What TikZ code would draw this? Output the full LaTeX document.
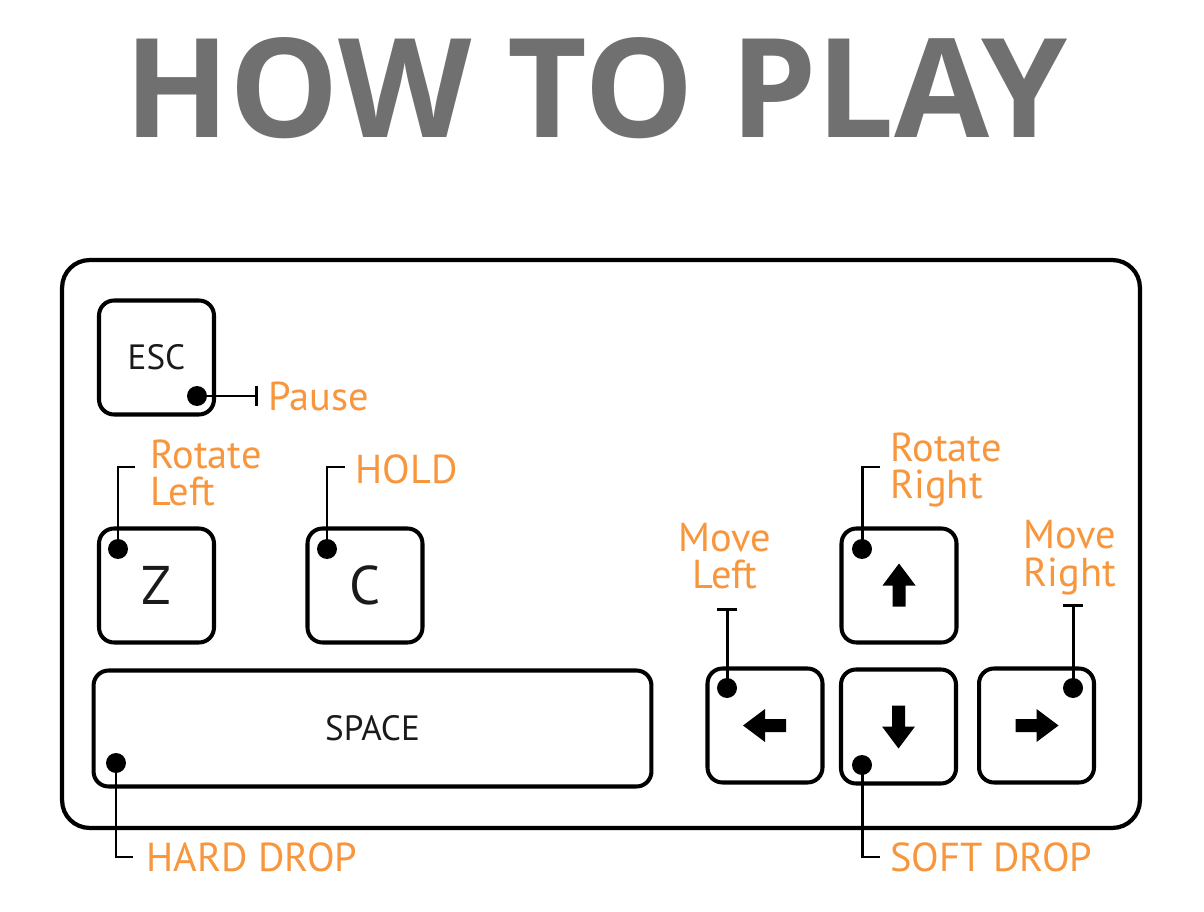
\documentclass[tikz,border=0pt]{standalone}
\usepackage{fontspec}
\setmainfont{PT Sans}
\newfontfamily\titlefont{Open Sans}
\usetikzlibrary{arrows.meta, positioning}
\definecolor{labelorange}{HTML}{F7963C}
\definecolor{titlegray}{HTML}{707070}
\definecolor{keyink}{HTML}{1A1A1A}

\begin{document}
\begin{tikzpicture}[x=0.02cm, y=-0.02cm,
        board/.style={draw=black, line width=2.4pt, rounded corners=0.55cm, minimum width=21.56cm, minimum height=11.36cm},
        keybox/.style={draw=black, line width=2.3pt, rounded corners=0.3cm, minimum width=2.3cm, minimum height=2.28cm, font=\fontsize{20}{20}\selectfont, text=keyink},
        bigkey/.style={keybox, font=\fontsize{31}{31}\selectfont},
        keydot/.style={circle, fill=black, inner sep=0pt, minimum size=0.4cm},
        lead/.style={line width=1.7pt, draw=black},
        tee/.style={lead, -{Bar[width=0.4cm]}},
        ctrl/.style={text=labelorange, font=\fontsize{23}{21.5}\selectfont, inner sep=0pt},
        keyarrow/.pic={\fill (-21,-6.5) -- (0,-6.5) -- (0,-16.5) -- (22,0) -- (0,16.5) -- (0,6.5) -- (-21,6.5) -- cycle;}
    ]
        \useasboundingbox (0,0) rectangle (1204,912);
        % Title
        \node[font=\titlefont\bfseries\fontsize{78.5}{78.5}\selectfont, text=titlegray] (title) at (596,88) {HOW TO PLAY};
        % Keyboard
        \node[board] (board) at (601,544) {};
        \node[keybox] (esc) at (156.5,357.5) {ESC};
        \node[bigkey] (zkey) at (156.5,585.5) {Z};
        \node[bigkey] (ckey) at (365,585.5) {C};
        \node[keybox, minimum width=11.16cm, minimum height=2.32cm] (space) at (372.5,728.5) {SPACE};
        \node[keybox] (leftkey) at (765,725.5) {};
        \node[keybox] (upkey) at (899,585.5) {};
        \node[keybox] (downkey) at (898.5,726.5) {};
        \node[keybox] (rightkey) at (1036.5,725.5) {};
        \pic[rotate=180] at (leftkey) {keyarrow};
        \pic[rotate=90] at (upkey) {keyarrow};
        \pic[rotate=-90] at (downkey) {keyarrow};
        \pic at (rightkey) {keyarrow};
        % Dots
        \node[keydot] (escdot) at (197,396) {};
        \node[keydot] (zdot) at (118,549) {};
        \node[keydot] (cdot) at (327,549) {};
        \node[keydot] (spacedot) at (116,763) {};
        \node[keydot] (leftdot) at (727,688) {};
        \node[keydot] (updot) at (862,549) {};
        \node[keydot] (downdot) at (862,765) {};
        \node[keydot] (rightdot) at (1073,688) {};
        % Labels
        \node[ctrl, anchor=west] (pause) at (268,396) {Pause};
        \node[ctrl, anchor=west, align=left] (rotleft) at (150,473) {Rotate\\Left};
        \node[ctrl, anchor=west] (hold) at (355,469) {HOLD};
        \node[ctrl, anchor=west, align=left] (rotright) at (890,470) {Rotate\\Right};
        \node[ctrl, align=center] (moveleft) at (725,556) {Move\\Left};
        \node[ctrl, align=center] (moveright) at (1070,558) {Move\\Right};
        \node[ctrl, anchor=west] (harddrop) at (146,857) {HARD DROP};
        \node[ctrl, anchor=west] (softdrop) at (890,857) {SOFT DROP};
        % Leaders
        \coordinate (pauseend) at (258,396);
        \coordinate (zend) at (135,467);
        \coordinate (cend) at (345,467);
        \coordinate (upend) at (880,467);
        \coordinate (leftend) at (727,608);
        \coordinate (rightend) at (1073,604);
        \coordinate (spaceend) at (133,857);
        \coordinate (downend) at (880,857);
        \draw[tee] (escdot.center) -- (pauseend);
        \draw[lead] (zdot.center) |- (zend);
        \draw[lead] (cdot.center) |- (cend);
        \draw[lead] (updot.center) |- (upend);
        \draw[tee] (leftdot.center) -- (leftend);
        \draw[tee] (rightdot.center) -- (rightend);
        \draw[lead] (spacedot.center) |- (spaceend);
        \draw[lead] (downdot.center) |- (downend);
\end{tikzpicture}
\end{document}
